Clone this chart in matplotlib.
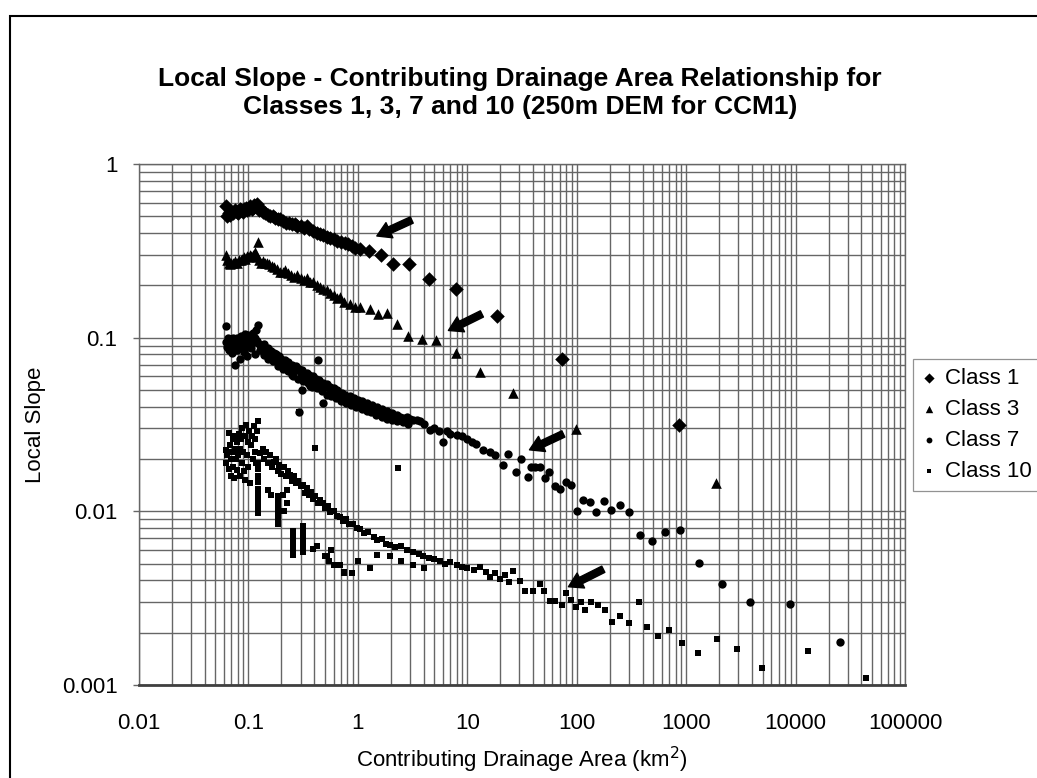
import matplotlib
matplotlib.use("Agg")
import matplotlib.pyplot as plt
from matplotlib.patches import Rectangle
from matplotlib.ticker import LogLocator, FixedLocator, FixedFormatter, NullFormatter

plt.rcParams["font.family"] = ["Liberation Sans", "DejaVu Sans"]

# Class 1 (diamonds)
c1_x = [0.062, 0.064, 0.066, 0.068, 0.070, 0.072, 0.075, 0.078, 0.080, 0.083,
        0.086, 0.089, 0.092, 0.095, 0.098, 0.101, 0.104, 0.107, 0.110, 0.113,
        0.116, 0.119, 0.122, 0.126, 0.131, 0.137, 0.143, 0.150, 0.158, 0.166,
        0.175, 0.185, 0.196, 0.208, 0.221, 0.235, 0.250, 0.265, 0.280, 0.300,
        0.320, 0.340, 0.360, 0.390, 0.420, 0.450, 0.480, 0.520, 0.560, 0.600,
        0.650, 0.700, 0.760, 0.820, 0.880, 0.950, 1.05, 1.27, 1.62, 2.11,
        2.96, 4.51, 7.9, 18.6, 73, 863]
c1_y = [0.57, 0.50, 0.52, 0.51, 0.53, 0.52, 0.54, 0.53, 0.52, 0.55,
        0.54, 0.53, 0.55, 0.56, 0.54, 0.55, 0.57, 0.55, 0.56, 0.58,
        0.57, 0.59, 0.56, 0.54, 0.55, 0.53, 0.52, 0.51, 0.50, 0.50,
        0.49, 0.48, 0.485, 0.47, 0.46, 0.46, 0.45, 0.45, 0.44, 0.44,
        0.43, 0.44, 0.42, 0.41, 0.40, 0.395, 0.39, 0.38, 0.375, 0.37,
        0.36, 0.355, 0.35, 0.345, 0.335, 0.33, 0.325, 0.317, 0.30, 0.266,
        0.266, 0.217, 0.191, 0.133, 0.0754, 0.0316]

# Class 3 (triangles)
c3_x = [0.062, 0.064, 0.066, 0.068, 0.070, 0.073, 0.076, 0.079, 0.082, 0.085,
        0.088, 0.091, 0.094, 0.097, 0.100, 0.103, 0.106, 0.110, 0.114, 0.118,
        0.121, 0.123, 0.126, 0.130, 0.135, 0.141, 0.148, 0.155, 0.163, 0.172,
        0.182, 0.193, 0.205, 0.218, 0.232, 0.247, 0.263, 0.280, 0.300, 0.320,
        0.341, 0.365, 0.392, 0.420, 0.450, 0.480, 0.520, 0.560, 0.600, 0.650,
        0.690, 0.750, 0.850, 0.950, 1.05, 1.29, 1.54, 1.84, 2.30, 2.90,
        3.84, 5.19, 7.9, 13.1, 26.4, 99, 1866]
c3_y = [0.30, 0.28, 0.27, 0.265, 0.27, 0.27, 0.275, 0.27, 0.28, 0.28,
        0.285, 0.29, 0.285, 0.295, 0.29, 0.30, 0.295, 0.30, 0.31, 0.30,
        0.29, 0.357, 0.28, 0.27, 0.275, 0.27, 0.27, 0.265, 0.26, 0.255,
        0.25, 0.24, 0.24, 0.245, 0.235, 0.23, 0.225, 0.23, 0.22, 0.215,
        0.22, 0.21, 0.21, 0.20, 0.195, 0.19, 0.187, 0.18, 0.175, 0.17,
        0.172, 0.16, 0.156, 0.15, 0.151, 0.146, 0.137, 0.138, 0.12, 0.102,
        0.098, 0.097, 0.082, 0.0635, 0.0479, 0.0298, 0.0145]

# Class 7 (circles)
c7_x = [0.062, 0.063, 0.064, 0.065, 0.066, 0.067, 0.068, 0.069, 0.070, 0.071,
        0.072, 0.073, 0.074, 0.075, 0.076, 0.077, 0.078, 0.079, 0.080, 0.082,
        0.083, 0.084, 0.086, 0.087, 0.088, 0.090, 0.091, 0.093, 0.094, 0.096,
        0.097, 0.099, 0.100, 0.102, 0.104, 0.106, 0.108, 0.110, 0.112, 0.114,
        0.116, 0.118, 0.120, 0.123, 0.125, 0.127, 0.130, 0.135, 0.140, 0.145,
        0.150, 0.155, 0.160, 0.165, 0.170, 0.175, 0.180, 0.186, 0.192, 0.200,
        0.207, 0.215, 0.223, 0.230, 0.240, 0.249, 0.250, 0.260, 0.270, 0.280,
        0.290, 0.290, 0.300, 0.311, 0.310, 0.320, 0.330, 0.340, 0.350, 0.366,
        0.360, 0.375, 0.390, 0.400, 0.415, 0.430, 0.430, 0.445, 0.460, 0.480,
        0.480, 0.500, 0.520, 0.540, 0.560, 0.580, 0.600, 0.620, 0.650, 0.680,
        0.710, 0.740, 0.770, 0.800, 0.840, 0.880, 0.920, 0.960, 1.00, 1.05,
        1.10, 1.16, 1.22, 1.28, 1.35, 1.42, 1.50, 1.58, 1.66, 1.75,
        1.85, 1.95, 2.05, 2.15, 2.30, 2.45, 2.60, 2.80, 3.00, 3.20,
        3.45, 3.70, 4.00, 4.57, 5.00, 5.50, 6.05, 6.50, 7.00, 8.00,
        9.00, 10.0, 11.0, 12.0, 14.0, 16.1, 18.0, 21.4, 23.8, 27.9,
        31.0, 36.2, 38.0, 41.7, 46.0, 51.4, 56.4, 63.5, 70.5, 80.0,
        89, 100, 115, 131, 150, 178, 206, 249, 303, 380,
        492, 647, 888, 1324, 2148, 3793, 8983, 25600,
        0.138, 0.152, 0.168, 0.185, 0.205, 0.228, 0.255, 0.285, 0.315, 0.350,
        0.385, 0.425, 0.47, 0.52, 0.57, 0.63, 0.70, 0.78, 0.87, 0.97,
        1.08, 1.20, 1.33, 1.48, 1.65, 1.83, 2.05, 2.30, 2.6, 2.9]
c7_y = [0.117, 0.095, 0.088, 0.100, 0.092, 0.085, 0.098, 0.090, 0.095, 0.082,
        0.100, 0.093, 0.088, 0.097, 0.070, 0.092, 0.085, 0.100, 0.095, 0.090,
        0.075, 0.097, 0.102, 0.088, 0.094, 0.100, 0.083, 0.096, 0.105, 0.090,
        0.078, 0.098, 0.104, 0.093, 0.100, 0.087, 0.097, 0.106, 0.095, 0.080,
        0.100, 0.110, 0.096, 0.119, 0.092, 0.085, 0.090, 0.085, 0.092, 0.082,
        0.087, 0.080, 0.084, 0.078, 0.082, 0.076, 0.080, 0.074, 0.078, 0.075,
        0.071, 0.074, 0.070, 0.072, 0.068, 0.061, 0.070, 0.067, 0.069, 0.065,
        0.0375, 0.066, 0.063, 0.050, 0.065, 0.062, 0.060, 0.063, 0.059, 0.0524,
        0.061, 0.058, 0.060, 0.056, 0.058, 0.0744, 0.055, 0.057, 0.054, 0.042,
        0.055, 0.052, 0.054, 0.051, 0.052, 0.049, 0.051, 0.048, 0.050, 0.047,
        0.048, 0.046, 0.047, 0.045, 0.046, 0.044, 0.045, 0.043, 0.044, 0.042,
        0.043, 0.041, 0.042, 0.040, 0.041, 0.039, 0.040, 0.038, 0.039, 0.037,
        0.038, 0.036, 0.037, 0.0355, 0.036, 0.035, 0.0345, 0.035, 0.034, 0.0335,
        0.0336, 0.033, 0.032, 0.0294, 0.030, 0.029, 0.0252, 0.029, 0.028, 0.0275,
        0.027, 0.026, 0.025, 0.0245, 0.0226, 0.0221, 0.021, 0.0185, 0.0214, 0.0169,
        0.020, 0.0158, 0.0179, 0.0179, 0.0179, 0.0155, 0.0169, 0.014, 0.0135, 0.0148,
        0.0141, 0.010, 0.0116, 0.0113, 0.00997, 0.0115, 0.0102, 0.0109, 0.00997, 0.00726,
        0.00676, 0.0076, 0.0078, 0.00507, 0.00382, 0.003, 0.00293, 0.00178,
        0.079, 0.075, 0.073, 0.069, 0.066, 0.064, 0.060, 0.058, 0.056, 0.055,
        0.052, 0.051, 0.049, 0.047, 0.046, 0.045, 0.043, 0.042, 0.041, 0.040,
        0.039, 0.038, 0.0375, 0.036, 0.035, 0.034, 0.0335, 0.033, 0.0325, 0.032]

# Class 10 (squares)
c10_x = [0.062, 0.063, 0.064, 0.066, 0.067, 0.068, 0.069, 0.070, 0.071, 0.072,
         0.073, 0.074, 0.075, 0.076, 0.077, 0.078, 0.079, 0.080, 0.082, 0.083,
         0.084, 0.086, 0.087, 0.088, 0.090, 0.091, 0.093, 0.094, 0.096, 0.097,
         0.099, 0.100, 0.102, 0.104, 0.106, 0.108, 0.110, 0.112, 0.114, 0.116,
         0.118, 0.120, 0.123, 0.123, 0.123, 0.123, 0.123, 0.123, 0.123, 0.123,
         0.123, 0.123, 0.187, 0.187, 0.187, 0.187, 0.187, 0.187, 0.254, 0.254,
         0.254, 0.254, 0.254, 0.254, 0.318, 0.318, 0.318, 0.318, 0.318, 0.318,
         0.152, 0.160, 0.205, 0.211, 0.224, 0.224, 0.128, 0.135, 0.140, 0.145,
         0.150, 0.158, 0.165, 0.170, 0.177, 0.185, 0.190, 0.200, 0.210, 0.220,
         0.230, 0.240, 0.250, 0.260, 0.270, 0.285, 0.290, 0.300, 0.315, 0.330,
         0.341, 0.360, 0.375, 0.390, 0.410, 0.410, 0.430, 0.450, 0.480, 0.500,
         0.530, 0.560, 0.600, 0.640, 0.690, 0.730, 0.780, 0.830, 0.900, 0.980,
         1.05, 1.15, 1.25, 1.39, 1.50, 1.65, 1.80, 1.97, 2.20, 2.35,
         2.50, 2.80, 3.20, 3.60, 3.97, 4.50, 5.00, 5.60, 6.30, 7.00,
         8.0, 9.0, 10.0, 11.4, 13.0, 14.9, 16.0, 18.0, 20.0, 22.0,
         24.0, 26.4, 30.4, 33.8, 40.0, 46.2, 50.7, 57.0, 63.0, 73.0,
         80, 89, 99, 110, 119, 135, 155, 180, 209, 250,
         300, 367, 437, 551, 703, 925, 1280, 1932, 2944, 4920,
         12950, 44200, 0.39, 0.42, 0.50, 0.52, 0.55, 0.57, 0.60, 0.69,
         0.74, 0.75, 0.88, 1.00, 1.29, 1.50, 1.97, 2.50, 3.20, 4.00]
c10_y = [0.0226, 0.019, 0.021, 0.0175, 0.0281, 0.024, 0.020, 0.016, 0.022, 0.026,
         0.018, 0.0155, 0.023, 0.027, 0.020, 0.0173, 0.025, 0.021, 0.028, 0.016,
         0.023, 0.026, 0.019, 0.030, 0.022, 0.017, 0.027, 0.0152, 0.0314, 0.021,
         0.025, 0.018, 0.029, 0.0145, 0.024, 0.027, 0.020, 0.031, 0.022, 0.026,
         0.019, 0.029, 0.0333, 0.019, 0.0175, 0.016, 0.0148, 0.0135, 0.0125, 0.0115,
         0.0106, 0.0098, 0.0122, 0.0113, 0.0105, 0.0097, 0.0091, 0.0085, 0.0077, 0.0072,
         0.0067, 0.0063, 0.0059, 0.0056, 0.0082, 0.0076, 0.0071, 0.0066, 0.0062, 0.0058,
         0.0133, 0.0125, 0.0124, 0.0100, 0.0133, 0.0111, 0.0216, 0.023, 0.020, 0.022,
         0.019, 0.021, 0.018, 0.0193, 0.020, 0.017, 0.0185, 0.0165, 0.018, 0.016,
         0.017, 0.0162, 0.015, 0.016, 0.0145, 0.015, 0.0372, 0.014, 0.0142, 0.0128,
         0.0136, 0.0125, 0.013, 0.0118, 0.0233, 0.0122, 0.0112, 0.0116, 0.0111, 0.0104,
         0.0108, 0.0099, 0.0101, 0.0094, 0.0093, 0.0088, 0.009, 0.0084, 0.0085, 0.008,
         0.0079, 0.0075, 0.0076, 0.00715, 0.0068, 0.0069, 0.0065, 0.0064, 0.0062, 0.0177,
         0.0063, 0.006, 0.0058, 0.0057, 0.0055, 0.0054, 0.0053, 0.0052, 0.005, 0.0051,
         0.0049, 0.0048, 0.0047, 0.0046, 0.0048, 0.0045, 0.0042, 0.0044, 0.0041, 0.0043,
         0.0039, 0.00456, 0.00399, 0.00346, 0.00346, 0.00382, 0.0035, 0.00306, 0.00306, 0.00289,
         0.00338, 0.00309, 0.0028, 0.003, 0.0027, 0.003, 0.00287, 0.0027, 0.0023, 0.00248,
         0.00227, 0.003, 0.00217, 0.00192, 0.00206, 0.00174, 0.00152, 0.00184, 0.00161, 0.00125,
         0.00157, 0.0011, 0.0061, 0.0063, 0.0055, 0.0055, 0.0052, 0.006, 0.0049, 0.0049,
         0.0044, 0.0045, 0.0044, 0.0052, 0.0047, 0.0056, 0.0055, 0.0052, 0.0049, 0.0047]

# arrows (tail -> head)
arrow_tail_x = [3.11, 13.6, 75.5, 175]
arrow_tail_y = [0.476, 0.137, 0.0279, 0.00464]
arrow_head_x = [1.49, 6.72, 37, 84]
arrow_head_y = [0.385, 0.11, 0.0226, 0.00368]

x_ticks = [0.01, 0.1, 1, 10, 100, 1000, 10000, 100000]
x_labels = ["0.01", "0.1", "1", "10", "100", "1000", "10000", "100000"]
y_ticks = [0.001, 0.01, 0.1, 1]
y_labels = ["0.001", "0.01", "0.1", "1"]

W, H = 1037, 778
fig = plt.figure(figsize=(W / 100, H / 100), dpi=100)
ax = fig.add_axes([139 / W, (H - 685) / H, 766 / W, 521 / H])

ax.scatter(c1_x, c1_y, marker="D", s=55, color="black", linewidths=0, label="Class 1", zorder=3)
ax.scatter(c3_x, c3_y, marker="^", s=58, color="black", linewidths=0, label="Class 3", zorder=3)
ax.scatter(c7_x, c7_y, marker="o", s=36, color="black", linewidths=0, label="Class 7", zorder=3)
ax.scatter(c10_x, c10_y, marker="s", s=22, color="black", linewidths=0, label="Class 10", zorder=3)

for tx, ty, hx, hy in zip(arrow_tail_x, arrow_tail_y, arrow_head_x, arrow_head_y):
    ax.annotate("", xy=(hx, hy), xytext=(tx, ty),
                arrowprops=dict(arrowstyle="simple,head_length=1.0,head_width=1.2,tail_width=0.5",
                                color="black", shrinkA=0, shrinkB=0, mutation_scale=10),
                zorder=4)

ax.set_xscale("log")
ax.set_yscale("log")
ax.set_xlim(0.01, 100000)
ax.set_ylim(0.001, 1)

ax.xaxis.set_major_locator(FixedLocator(x_ticks))
ax.xaxis.set_major_formatter(FixedFormatter(x_labels))
ax.yaxis.set_major_locator(FixedLocator(y_ticks))
ax.yaxis.set_major_formatter(FixedFormatter(y_labels))
ax.xaxis.set_minor_locator(LogLocator(base=10, subs=range(2, 10), numticks=20))
ax.yaxis.set_minor_locator(LogLocator(base=10, subs=range(2, 10), numticks=20))
ax.xaxis.set_minor_formatter(NullFormatter())
ax.yaxis.set_minor_formatter(NullFormatter())

ax.grid(True, which="both", color="#666666", linewidth=1.0)
ax.set_axisbelow(True)
ax.tick_params(axis="x", which="both", length=0, pad=20, labelsize=16)
ax.tick_params(axis="y", which="major", length=4.5, width=1.0, color="#666666", pad=11, labelsize=16)
ax.tick_params(axis="y", which="minor", length=0)
for side in ["top", "left", "right"]:
    ax.spines[side].set_color("#666666")
    ax.spines[side].set_linewidth(1.0)
ax.spines["bottom"].set_color("#404040")
ax.spines["bottom"].set_linewidth(2.0)

ax.set_xlabel("Contributing Drainage Area (km$^2$)", fontsize=16)
ax.xaxis.set_label_coords(0.5, -0.115)
ax.set_ylabel("Local Slope", fontsize=16)
ax.yaxis.set_label_coords(-0.122, 0.5)

fig.text(520 / W, 1 - 93 / H,
         "Local Slope - Contributing Drainage Area Relationship for\n"
         "Classes 1, 3, 7 and 10 (250m DEM for CCM1)",
         ha="center", va="center", fontsize=19, fontweight="bold", linespacing=1.2)

leg = fig.legend(loc="upper left", bbox_to_anchor=(913 / W, 1 - 359 / H), fontsize=16,
                 frameon=True, fancybox=False, edgecolor="#777777", markerscale=0.7,
                 handlelength=0.6, handletextpad=0.45, borderpad=0.4, labelspacing=0.45,
                 borderaxespad=0)
leg.get_frame().set_linewidth(0.9)

# outer chart border
fig.patches.append(Rectangle((10 / W, -0.1), 1.2, (H - 16) / H + 0.1, transform=fig.transFigure,
                             fill=False, edgecolor="black", linewidth=1.5))

fig.savefig("out.png", dpi=100)
